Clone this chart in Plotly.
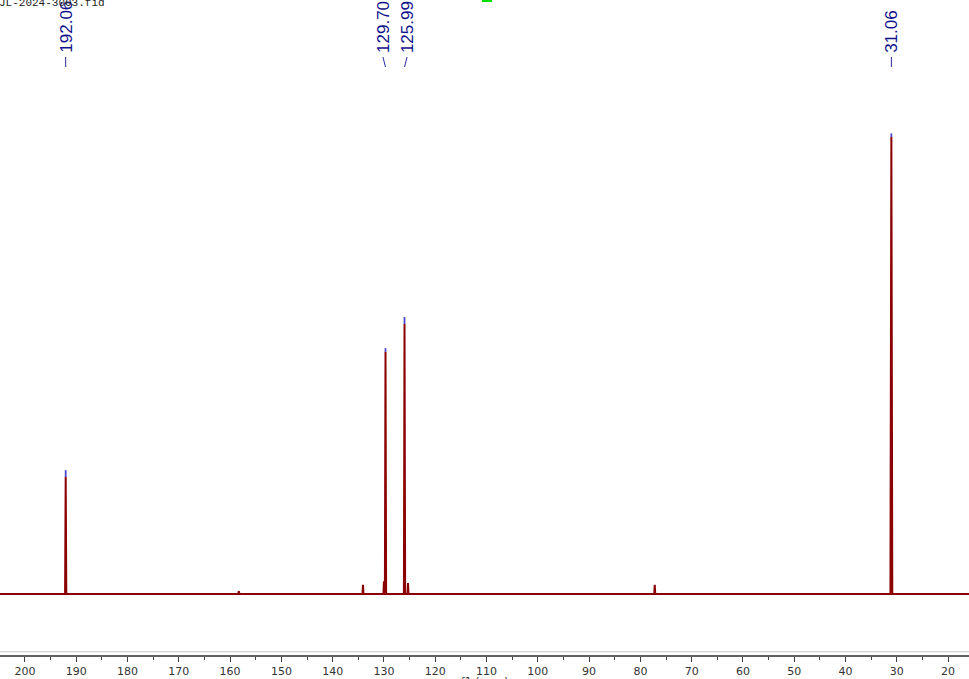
import plotly.graph_objects as go

# ---- data ----
peak_ppm = [192.06, 158.3, 134.09, 130.00, 129.70, 125.99, 125.31, 77.20, 31.06]
peak_height = [25.6, 0.6, 2.0, 2.8, 53.0, 59.1, 2.4, 2.0, 100.0]
peak_halfwidth = [0.12, 0.12, 0.1, 0.1, 0.12, 0.12, 0.1, 0.1, 0.18]

picked_ppm = [192.06, 129.70, 125.99, 31.06]
picked_label = ["192.06", "129.70", "125.99", "31.06"]
picked_red_top = [25.6, 53.0, 59.1, 100.0]
picked_blue_top = [27.1, 53.8, 60.6, 100.8]
label_offset = [0.0, 0.5, -0.5, 0.0]  # ppm offset of label from peak

x_min, x_max = 15.92, 204.87
y_lo, y_hi = -13.35, 130.0

W, H = 969, 679
B = 24
PH = H - B


def paper_y(px):
    return (PH - px) / PH


# build spectrum trace
pairs = sorted(zip(peak_ppm, peak_height, peak_halfwidth), key=lambda t: -t[0])
xs = [x_max]
ys = [0.0]
for p, h, w in pairs:
    xs += [p + w, p, p - w]
    ys += [0.0, h, 0.0]
xs.append(x_min)
ys.append(0.0)

fig = go.Figure()
fig.add_trace(go.Scatter(x=xs, y=ys, mode="lines",
                         line=dict(color="#8b0000", width=2),
                         hoverinfo="skip", showlegend=False))

# blue tips for picked peaks
bx, by = [], []
for p, r, b in zip(picked_ppm, picked_red_top, picked_blue_top):
    bx += [p, p, None]
    by += [r, b, None]
fig.add_trace(go.Scatter(x=bx, y=by, mode="lines",
                         line=dict(color="#4848d0", width=1.8),
                         hoverinfo="skip", showlegend=False))

shapes = []
annotations = []
for p, lab, off in zip(picked_ppm, picked_label, label_offset):
    lx = p + off
    annotations.append(dict(x=lx, xref="x", y=paper_y(55), yref="paper",
                            text=lab, textangle=-90, showarrow=False,
                            xanchor="center", yanchor="bottom",
                            font=dict(family="Liberation Sans", size=17, color="#10108c")))
    shapes.append(dict(type="line", xref="x", yref="paper",
                       x0=lx, y0=paper_y(57), x1=p, y1=paper_y(67),
                       line=dict(color="#2a2aa0", width=1)))

# light gray line above axis
shapes.append(dict(type="line", xref="paper", yref="paper",
                   x0=0, x1=1, y0=paper_y(651.7), y1=paper_y(651.7),
                   line=dict(color="#c8c8c8", width=1)))
# green marker at top
shapes.append(dict(type="rect", xref="paper", yref="paper",
                   x0=482 / W, x1=492 / W, y0=paper_y(2), y1=paper_y(-3),
                   line=dict(width=0), fillcolor="#00e000"))

annotations.append(dict(x=-3 / W, xref="paper", y=paper_y(3), yref="paper",
                        text="JL-2024-3003.fid", showarrow=False,
                        xanchor="left", yanchor="middle",
                        font=dict(family="Liberation Mono", size=11, color="#222222")))
annotations.append(dict(x=0.5, xref="paper",
                        y=paper_y(673), yref="paper",
                        text="f1 (ppm)", showarrow=False,
                        xanchor="center", yanchor="top",
                        font=dict(family="DejaVu Sans", size=11, color="#333333")))

fig.update_layout(
    width=W, height=H,
    margin=dict(l=0, r=0, t=0, b=B),
    paper_bgcolor="white", plot_bgcolor="white",
    shapes=shapes, annotations=annotations,
    xaxis=dict(range=[x_max, x_min], showgrid=False, zeroline=False,
               showline=True, linecolor="#606060", linewidth=1.5,
               ticks="outside", ticklen=5, tickcolor="#404040", tickwidth=1,
               tick0=0, dtick=10,
               minor=dict(ticks="outside", ticklen=3, dtick=5, tick0=0,
                          tickcolor="#404040", showgrid=False),
               tickfont=dict(family="DejaVu Sans", size=11, color="#333333")),
    yaxis=dict(range=[y_lo, y_hi], visible=False, showgrid=False, zeroline=False),
)

fig.write_html("out.html", config={"displayModeBar": False},
               post_script="document.body.style.margin='0';document.body.style.padding='0';")
